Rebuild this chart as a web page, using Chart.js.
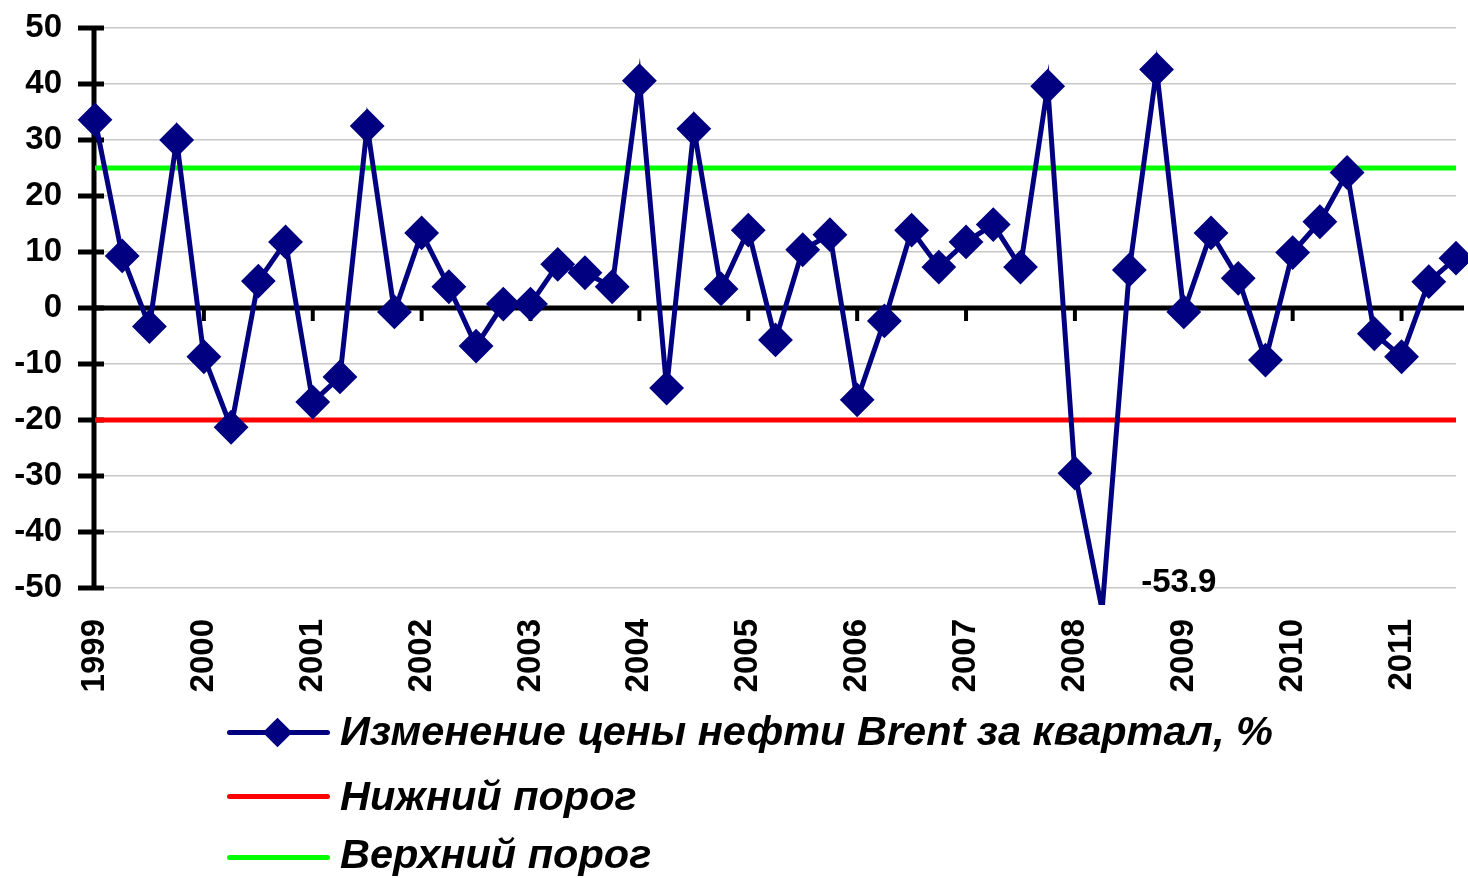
<!DOCTYPE html>
<html>
<head>
<meta charset="utf-8">
<script src="https://cdn.jsdelivr.net/npm/chart.js@4.4.0/dist/chart.umd.min.js"></script>
<style>
  html, body { margin: 0; padding: 0; background: #fff; overflow: hidden; }
  #wrap { position: relative; width: 1468px; height: 878px; overflow: hidden; background: #fff; }
  #chart { position: absolute; left: 0; top: 0; }
  .legend { position: absolute; left: 0; top: 0; width: 1468px; height: 878px; pointer-events: none;
            font-family: 'Liberation Sans', Arial, sans-serif; font-weight: bold; font-style: italic;
            font-size: 41.5px; line-height: 41px; color: #000; }
  .sample { position: absolute; left: 227px; width: 103px; height: 5px; border-radius: 3px; }
  .dia { position: absolute; width: 21px; height: 21px; background: #000080; transform: rotate(45deg); }
  .txt { position: absolute; left: 340px; white-space: nowrap; }
</style>
</head>
<body>
<div id="wrap">
  <canvas id="chart" width="1474" height="878"></canvas>
  <div class="legend">
    <div class="sample" style="top:730px;background:#000080;"></div>
    <div class="dia" style="left:267px;top:722px;"></div>
    <div class="txt" id="lg0" style="top:710px;"></div>
    <div class="sample" style="top:794px;background:#ff0000;"></div>
    <div class="txt" id="lg1" style="top:775px;"></div>
    <div class="sample" style="top:855px;background:#00ff00;"></div>
    <div class="txt" id="lg2" style="top:833px;"></div>
  </div>
</div>
<script>
// ---- data ----
const years = ['1999','2000','2001','2002','2003','2004','2005','2006','2007','2008','2009','2010','2011'];
const quarters = ['I','II','III','IV'];
const priceChange = [
  33.6, 9.3, -3.3, 30.0,
  -8.7, -21.3, 4.8, 11.8,
  -16.8, -12.3, 32.5, -0.7,
  13.4, 3.8, -6.8, 0.7,
  0.7, 7.8, 6.3, 3.8,
  40.6, -14.3, 32.0, 3.4,
  13.9, -5.7, 10.4, 13.1,
  -16.4, -2.3, 13.9, 7.3,
  11.8, 14.9, 7.3, 39.6,
  -29.5, -53.9, 6.8, 42.6,
  -0.7, 13.4, 5.3, -9.3,
  9.9, 15.4, 24.2, -4.6,
  -8.7, 4.7, 8.9
];
const lowerThreshold = -20;
const upperThreshold = 25;
const yMin = -50, yMax = 50, yStep = 10;
const seriesNames = ['Изменение цены нефти Brent за квартал, %', 'Нижний порог', 'Верхний порог'];

const categories = years.flatMap(y => quarters.map(q => q + ' ' + y)).slice(0, priceChange.length);
const lowerData = categories.map(() => lowerThreshold);
const upperData = categories.map(() => upperThreshold);

document.getElementById('lg0').textContent = seriesNames[0];
document.getElementById('lg1').textContent = seriesNames[1];
document.getElementById('lg2').textContent = seriesNames[2];

const FONT = "'Liberation Sans', Arial, sans-serif";

function zeroPad(s) {
  s.paddingTop = 0; s.paddingBottom = 0; s.paddingLeft = 0; s.paddingRight = 0;
}

const axisDecor = {
  id: 'axisDecor',
  beforeDatasetsDraw(chart) {
    const { ctx, chartArea, scales: { x, y } } = chart;
    ctx.save();
    ctx.strokeStyle = '#000';
    ctx.lineCap = 'butt';
    const y0 = y.getPixelForValue(0);
    // zero line
    ctx.lineWidth = 5;
    ctx.beginPath();
    ctx.moveTo(chartArea.left, y0);
    ctx.lineTo(chartArea.right + 8, y0);
    ctx.stroke();
    // year tick marks on the zero line
    ctx.lineWidth = 4;
    categories.forEach((c, i) => {
      if (i > 0 && i % 4 === 0) {
        const px = x.getPixelForValue(i);
        ctx.beginPath();
        ctx.moveTo(px, y0);
        ctx.lineTo(px, y0 + 13);
        ctx.stroke();
      }
    });
    // y axis line
    const ax = chartArea.left - 1;
    ctx.lineWidth = 5;
    ctx.beginPath();
    ctx.moveTo(ax, y.getPixelForValue(yMax) - 2);
    ctx.lineTo(ax, y.getPixelForValue(yMin) + 2);
    ctx.stroke();
    // y tick marks
    y.ticks.forEach(t => {
      const py = y.getPixelForValue(t.value);
      ctx.beginPath();
      ctx.moveTo(ax - 16, py);
      ctx.lineTo(ax + 10, py);
      ctx.stroke();
    });
    ctx.restore();
  },
  afterDatasetsDraw(chart) {
    const { ctx, chartArea } = chart;
    const meta = chart.getDatasetMeta(0);
    ctx.save();
    ctx.fillStyle = '#000';
    ctx.font = 'bold 33px ' + FONT;
    ctx.textAlign = 'left';
    ctx.textBaseline = 'alphabetic';
    priceChange.forEach((v, i) => {
      if (v < yMin || v > yMax) {
        const pt = meta.data[i];
        ctx.fillText(v.toFixed(1), pt.x + 39, chartArea.bottom + 4);
      }
    });
    ctx.restore();
  }
};

new Chart(document.getElementById('chart'), {
  type: 'line',
  data: {
    labels: categories,
    datasets: [
      {
        label: seriesNames[0],
        data: priceChange,
        borderColor: '#000080',
        backgroundColor: '#000080',
        borderWidth: 5,
        pointStyle: 'rectRot',
        pointRadius: ctx => (ctx.raw < yMin || ctx.raw > yMax) ? 0 : 16,
        pointBorderWidth: 2,
        pointBackgroundColor: '#000080',
        pointBorderColor: '#000080',
        tension: 0,
        fill: false,
        clip: { left: false, top: false, right: false, bottom: 17 }
      },
      {
        label: seriesNames[1],
        data: lowerData,
        borderColor: '#ff0000',
        borderWidth: 5,
        pointRadius: 0,
        fill: false
      },
      {
        label: seriesNames[2],
        data: upperData,
        borderColor: '#00ff00',
        borderWidth: 5,
        pointRadius: 0,
        fill: false
      }
    ]
  },
  options: {
    responsive: false,
    devicePixelRatio: 1,
    animation: false,
    events: [],
    layout: { padding: { top: 28, right: 2, bottom: 180, left: 0 } },
    plugins: {
      legend: { display: false },
      tooltip: { enabled: false }
    },
    scales: {
      x: {
        type: 'category',
        offset: false,
        grid: { display: false },
        border: { display: false },
        afterFit: s => { s.height = 110; zeroPad(s); },
        ticks: {
          autoSkip: false,
          minRotation: 90,
          maxRotation: 90,
          padding: 23,
          color: '#000',
          font: { family: FONT, size: 33, weight: 'bold' },
          callback: (val, i) => (i % 4 === 0 ? years[i / 4] : '')
        }
      },
      y: {
        min: yMin,
        max: yMax,
        afterFit: s => { s.width = 95; zeroPad(s); },
        grid: { color: '#c8c8c8', lineWidth: 1.5, drawTicks: false },
        border: { display: false },
        ticks: {
          stepSize: yStep,
          padding: 33,
          color: '#000',
          font: { family: FONT, size: 33, weight: 'bold' }
        }
      }
    }
  },
  plugins: [axisDecor]
});
</script>
</body>
</html>
